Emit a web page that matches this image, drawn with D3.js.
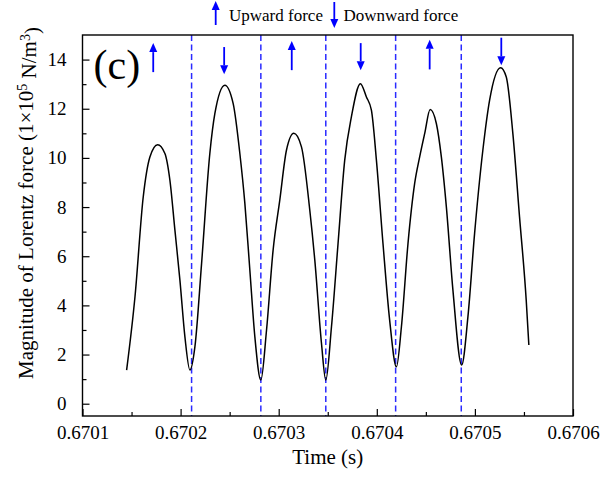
<!DOCTYPE html>
<html>
<head>
<meta charset="utf-8">
<script src="https://cdn.jsdelivr.net/npm/d3@7"></script>
<style>
  body { margin: 0; background: #fff; }
  svg text { font-family: "Liberation Serif", "Times New Roman", serif; fill: #000; }
</style>
</head>
<body>
<div id="plot"></div>
<script>
// time (s) and Lorentz force magnitude (1e5 N/m^3)
var timeS = [
  0.6701450, 0.6701535, 0.6701619, 0.6701687, 0.6701766, 0.6701840, 0.6701891, 0.6701942,
  0.6701993, 0.6702044, 0.6702095, 0.6702146, 0.6702214, 0.6702298, 0.6702349, 0.6702451,
  0.6702536, 0.6702604, 0.6702655, 0.6702706, 0.6702757, 0.6702818, 0.6702876, 0.6702943,
  0.6703011, 0.6703079, 0.6703154, 0.6703232, 0.6703317, 0.6703368, 0.6703436, 0.6703480,
  0.6703538, 0.6703605, 0.6703673, 0.6703741, 0.6703833, 0.6703894, 0.6703945, 0.6703996,
  0.6704063, 0.6704131, 0.6704200, 0.6704251, 0.6704318, 0.6704386, 0.6704437, 0.6704488,
  0.6704544, 0.6704607, 0.6704658, 0.6704709, 0.6704776, 0.6704865, 0.6704929, 0.6704997,
  0.6705081, 0.6705150, 0.6705262, 0.6705320, 0.6705387, 0.6705455, 0.6705523, 0.6705550
];
var lorentz = [
  1.37, 4.35, 8.41, 10.04, 10.54, 10.18, 9.09, 7.06,
  5.03, 2.72, 1.37, 2.32, 5.71, 10.18, 11.80, 12.96,
  12.21, 10.18, 8.15, 5.43, 2.72, 0.96, 3.00, 6.25,
  8.28, 10.31, 11.00, 10.45, 7.87, 5.84, 2.46, 0.96,
  3.13, 6.52, 9.91, 11.67, 13.02, 12.48, 11.94, 9.91,
  6.52, 3.40, 1.50, 3.13, 6.52, 8.96, 10.04, 10.99,
  11.97, 11.40, 10.04, 8.01, 4.62, 1.57, 3.54, 6.93,
  10.31, 12.35, 13.67, 13.29, 10.99, 7.60, 4.22, 2.39
];

var xTicks = [0.6701, 0.6702, 0.6703, 0.6704, 0.6705, 0.6706];
var xMinor = [0.67015, 0.67025, 0.67035, 0.67045, 0.67055];
var yTicks = [0, 2, 4, 6, 8, 10, 12, 14];
var yMinor = [1, 3, 5, 7, 9, 11, 13];

// blue dashed markers at the force reversals
var dashTimes = [0.6702112, 0.6702818, 0.6703480, 0.6704192, 0.6704861];

// force direction arrows above each peak
var arrowTimes = [0.6701721, 0.6702444, 0.6703133, 0.6703836, 0.6704539, 0.6705269];
var arrowDirs = ["up", "down", "up", "down", "up", "down"];
var arrowTop = [14.67, 14.51, 14.76, 14.67, 14.81, 14.89];
var arrowBottom = [13.49, 13.40, 13.57, 13.57, 13.60, 13.77];

var W = 600, H = 481;
var margin = { top: 35, right: 27, bottom: 65, left: 82.5 },
  width = W - margin.left - margin.right,
  height = H - margin.top - margin.bottom;

var svg = d3.select("#plot").append("svg")
  .attr("width", W)
  .attr("height", H);

var g = svg.append("g")
  .attr("transform", `translate(${margin.left},${margin.top})`);

var x = d3.scaleLinear().domain([0.6701, 0.6706]).range([0, width]);
var y = d3.scaleLinear().domain([-0.5, 15]).range([height, 0]);

// axes (ticks point inward)
var xAxis = g.append("g")
  .attr("transform", `translate(0,${height})`)
  .call(d3.axisBottom(x).tickValues(xTicks).tickFormat(d3.format(".4f"))
    .tickSizeInner(-7).tickSizeOuter(0).tickPadding(10));
g.append("g")
  .attr("transform", `translate(0,${height})`)
  .call(d3.axisBottom(x).tickValues(xMinor).tickFormat("").tickSizeInner(-4).tickSizeOuter(0));

var yAxis = g.append("g")
  .call(d3.axisLeft(y).tickValues(yTicks).tickFormat(d3.format("d"))
    .tickSizeInner(-7).tickSizeOuter(0).tickPadding(16));
g.append("g")
  .call(d3.axisLeft(y).tickValues(yMinor).tickFormat("").tickSizeInner(-4).tickSizeOuter(0));

g.selectAll(".domain").remove();
g.selectAll(".tick line").attr("stroke", "#000").attr("stroke-width", 1.2);
g.selectAll(".tick text").style("font-size", "19px");

// dashed vertical lines
g.selectAll("line.dash")
  .data(dashTimes)
  .join("line")
  .attr("class", "dash")
  .attr("x1", d => x(d)).attr("x2", d => x(d))
  .attr("y1", 0).attr("y2", height)
  .attr("stroke", "#2a2aff")
  .attr("stroke-width", 1.5)
  .attr("stroke-dasharray", "6,3.5");

// the curve
var pts = timeS.map((t, i) => [t, lorentz[i]]);
g.append("path")
  .datum(pts)
  .attr("fill", "none")
  .attr("stroke", "#000")
  .attr("stroke-width", 1.5)
  .attr("d", d3.line().x(d => x(d[0])).y(d => y(d[1])).curve(d3.curveMonotoneX));

// arrows
function arrow(sel, cx, yTail, yTip) {
  var dir = yTip < yTail ? -1 : 1;
  var headLen = 9, half = 4;
  sel.append("line")
    .attr("x1", cx).attr("x2", cx)
    .attr("y1", yTail).attr("y2", yTip - dir * headLen)
    .attr("stroke", "#0000ff").attr("stroke-width", 1.8);
  sel.append("path")
    .attr("d", `M${cx},${yTip} L${cx - half},${yTip - dir * headLen} L${cx + half},${yTip - dir * headLen} Z`)
    .attr("fill", "#0000ff");
}

arrowTimes.forEach(function (t, i) {
  var up = arrowDirs[i] === "up";
  var yt = y(arrowTop[i]), yb = y(arrowBottom[i]);
  if (up) arrow(g, x(t), yb, yt);
  else arrow(g, x(t), yt, yb);
});

// frame
g.append("rect")
  .attr("width", width).attr("height", height)
  .attr("fill", "none").attr("stroke", "#000").attr("stroke-width", 1.4);

// panel label
g.append("text")
  .attr("x", 11).attr("y", 44)
  .style("font-size", "42px")
  .text("(c)");

// legend above the plot
arrow(svg, 215.7, 25, 1);
svg.append("text").attr("x", 229).attr("y", 20.5).style("font-size", "17px").text("Upward force");
arrow(svg, 334.3, 2, 28);
svg.append("text").attr("x", 343.5).attr("y", 20.5).style("font-size", "17px").text("Downward force");

// axis titles
svg.append("text")
  .attr("x", margin.left + width / 2)
  .attr("y", 464)
  .attr("text-anchor", "middle")
  .style("font-size", "21px")
  .text("Time (s)");

var yl = svg.append("text")
  .attr("transform", "translate(33,203) rotate(-90)")
  .attr("text-anchor", "middle")
  .style("font-size", "21px");
yl.append("tspan").text("Magnitude of Lorentz force (1×10");
yl.append("tspan").attr("dy", "-0.45em").style("font-size", "14px").text("5");
yl.append("tspan").attr("dy", "0.45em").text(" N/m");
yl.append("tspan").attr("dy", "-0.45em").style("font-size", "14px").text("3");
yl.append("tspan").attr("dy", "0.45em").text(")");
</script>
</body>
</html>
